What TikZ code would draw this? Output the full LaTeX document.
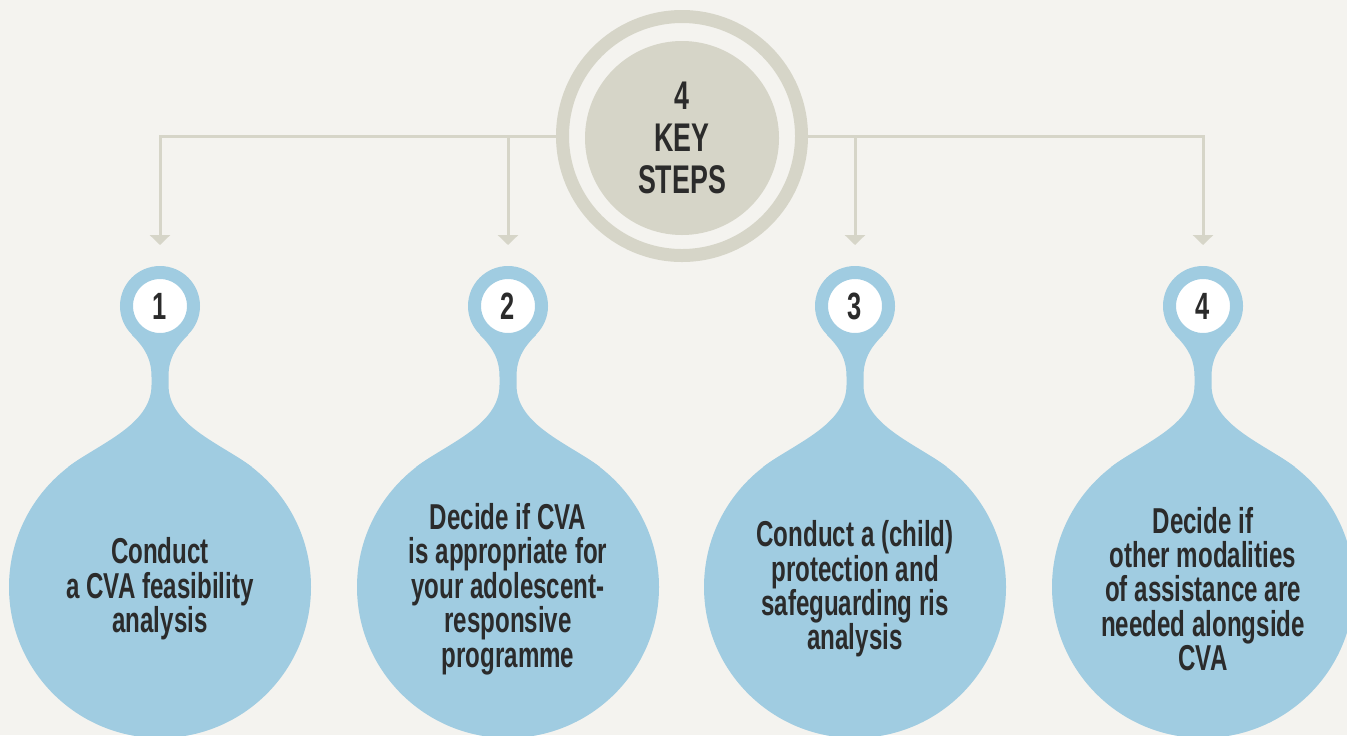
\documentclass[tikz,border=0pt]{standalone}
\usepackage{fontspec}
\usepackage{tikz}
\usetikzlibrary{positioning,calc,arrows.meta}
\newfontfamily\keyfont[FakeStretch=0.67]{Liberation Sans}
\definecolor{paper}{RGB}{244,243,239}
\definecolor{sky}{RGB}{160,204,225}
\definecolor{stone}{RGB}{214,213,200}
\definecolor{ink}{RGB}{43,43,43}

\begin{document}
\begin{tikzpicture}[x=0.5pt, y=0.5pt,
    drop/.style={fill=sky},
    head/.style={circle, fill=white, draw=sky, line width=6.5pt, minimum size=33.5pt, inner sep=0pt, text=ink, font=\keyfont\bfseries\fontsize{19}{19}\selectfont},
    steptext/.style={align=center, text=ink, font=\keyfont\bfseries\fontsize{18}{17.2}\selectfont},
    link/.style={draw=stone, line width=1.5pt, -{Triangle[width=10pt, length=5pt]}, shorten >=10.5pt}]
    \fill[paper] (0,0) rectangle (1347,-735);
    \clip (0,0) rectangle (1347,-735);

    % centre badge
    \node[circle, draw=stone, line width=6.5pt, minimum size=119.5pt] (hub) at (682,-136) {};
    \node[circle, fill=stone, minimum size=97pt, align=center, text=ink, font=\keyfont\bfseries\fontsize{20}{21}\selectfont] (core) at (682,-138) {4\\KEY\\STEPS};

    % drops with numbers
    \foreach \x/\n in {160/1,508/2,855/3,1203/4} {
        \fill[drop] (\x,-587) circle[radius=151];
        \fill[drop] (\x-28,-335) .. controls (\x-14,-349) and (\x-8.5,-360) .. (\x-8.5,-377)
            -- (\x-8.5,-385) .. controls (\x-8.5,-425) and (\x-60,-443) .. (\x-92,-467)
            -- (\x+92,-467) .. controls (\x+60,-443) and (\x+8.5,-425) .. (\x+8.5,-385)
            -- (\x+8.5,-377) .. controls (\x+8.5,-360) and (\x+14,-349) .. (\x+28,-335) -- cycle;
        \node[head] (head\n) at (\x,-306) {\n};
    }

    \node[steptext] (t1) at (160,-589) {Conduct\\a CVA feasibility\\analysis};
    \node[steptext] (t2) at (508,-589) {Decide if CVA\\is appropriate for\\your adolescent-\\responsive\\programme};
    \node[steptext] (t3) at (855,-589) {Conduct a (child)\\protection and\\safeguarding ris\\analysis};
    \node[steptext] (t4) at (1203,-589) {Decide if\\other modalities\\of assistance are\\needed alongside\\CVA};

    \draw[link] (hub.west) -| (head1.north);
    \draw[link] (hub.west) -| (head2.north);
    \draw[link] (hub.east) -| (head3.north);
    \draw[link] (hub.east) -| (head4.north);
\end{tikzpicture}
\end{document}
